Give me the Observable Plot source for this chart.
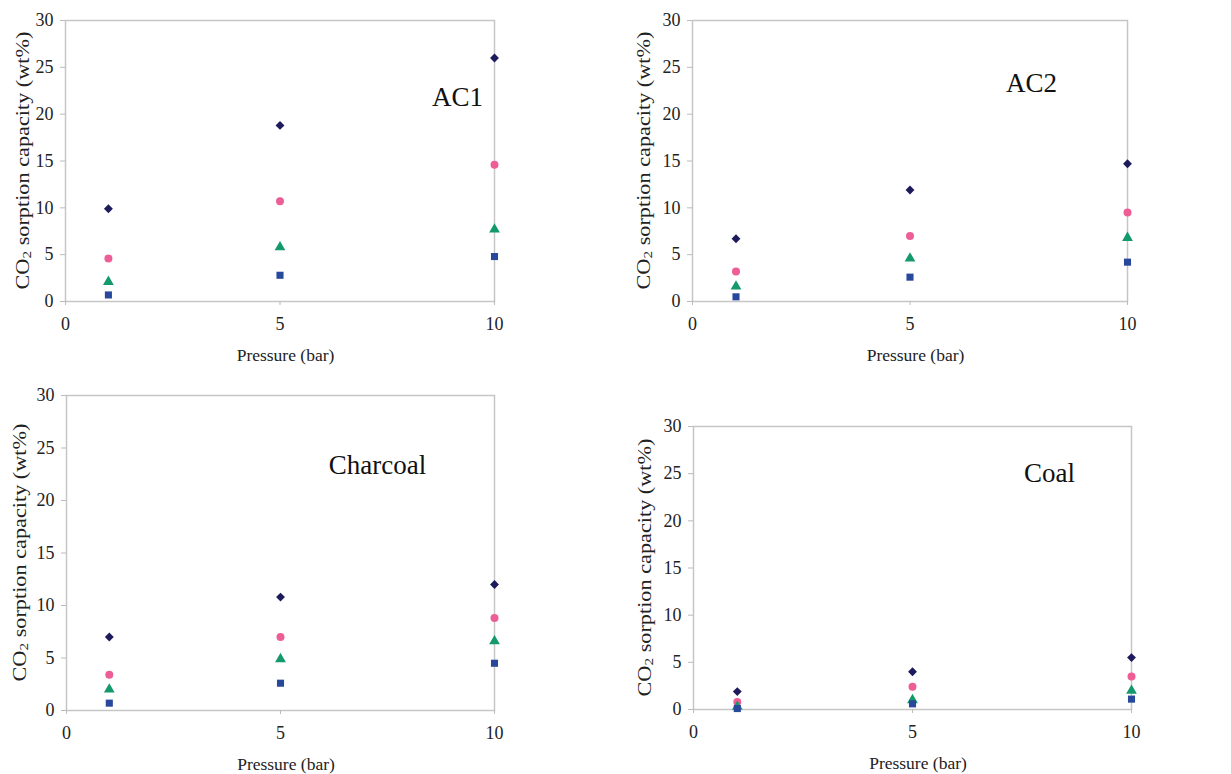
<!DOCTYPE html>
<html><head><meta charset="utf-8">
<script src="https://cdn.jsdelivr.net/npm/d3@7"></script>
<script src="https://cdn.jsdelivr.net/npm/@observablehq/plot@0.6"></script>
<style>
body{margin:0;background:#fff;}
#wrap{position:relative;width:1231px;height:774px;overflow:hidden;font-family:"Liberation Serif",serif;}
.panel{position:absolute;}
</style></head><body><div id="wrap"></div>
<script>
// ---- data ----
const pressure = [1, 5, 10];
const seriesNames = ["Series 1", "Series 2", "Series 3", "Series 4"];
const seriesSymbols = ["diamond2", "circle", "triangle", "square"];
const seriesColors = ["#1d1b5c", "#ee5e96", "#13996b", "#28489c"];
const yTicks = [0, 5, 10, 15, 20, 25, 30];
const xTicks = [0, 5, 10];
const panelTitles = ["AC1", "AC2", "Charcoal", "Coal"];
const xLabel = "Pressure (bar)";
const ac1 = [[9.9, 18.8, 26.0], [4.6, 10.7, 14.6], [2.1, 5.8, 7.7], [0.7, 2.8, 4.8]];
const ac2 = [[6.7, 11.9, 14.7], [3.2, 7.0, 9.5], [1.6, 4.6, 6.8], [0.5, 2.6, 4.2]];
const charcoal = [[7.0, 10.8, 12.0], [3.4, 7.0, 8.8], [2.0, 4.9, 6.6], [0.7, 2.6, 4.5]];
const coal = [[1.9, 4.0, 5.5], [0.8, 2.4, 3.5], [0.3, 1.0, 2.0], [0.1, 0.6, 1.1]];
const panelData = [ac1, ac2, charcoal, coal];

// ---- layout (styles only) ----
const FONT = '"Liberation Serif", "Times New Roman", serif';
const layout = [
  {left: 0,   top: 0,   width: 600, height: 375, mL: 65, mR: 106, mT: 20, mB: 74, tdx: 392, tdy: 77, ylx: 22},
  {left: 620, top: 0,   width: 611, height: 375, mL: 72, mR: 104, mT: 20, mB: 74, tdx: 339, tdy: 63, ylx: 23},
  {left: 0,   top: 380, width: 600, height: 394, mL: 66, mR: 106, mT: 15, mB: 64, tdx: 311, tdy: 70, ylx: 19},
  {left: 620, top: 380, width: 611, height: 394, mL: 73, mR: 100, mT: 46, mB: 65, tdx: 356, tdy: 47, ylx: 24}
];

const wrap = document.getElementById("wrap");

panelData.forEach((d, i) => {
  const L = layout[i];
  const rows = [];
  d.forEach((vals, s) => vals.forEach((v, k) => rows.push({p: pressure[k], v, s: seriesNames[s]})));
  const plot = Plot.plot({
    width: L.width, height: L.height,
    marginLeft: L.mL, marginRight: L.mR, marginTop: L.mT, marginBottom: L.mB,
    style: {fontFamily: FONT, fontSize: "18px", color: "#222", background: "transparent", overflow: "visible"},
    x: {domain: [0, 10]},
    y: {domain: [0, 30]},
    color: {domain: seriesNames, range: seriesColors},
    symbol: {domain: seriesNames, range: seriesSymbols},
    marks: [
      Plot.frame({stroke: "#c6c6c6", strokeWidth: 1.5}),
      Plot.axisY(yTicks, {tickSize: 5, tickPadding: 7, stroke: "#bbb", fill: "#222", label: null, fontSize: 18}),
      Plot.axisX(xTicks, {tickSize: 4, tickPadding: 12, stroke: "#bbb", fill: "#222", label: null, fontSize: 18}),
      Plot.dot(rows, {x: "p", y: "v", symbol: "s", fill: "s", r: 4}),
      Plot.text([panelTitles[i]], {frameAnchor: "top-left", dx: L.tdx, dy: L.tdy, textAnchor: "middle", lineAnchor: "middle", fontSize: 27, fill: "#111"})
    ]
  });
  const svg = d3.select(plot);
  const x = plot.scale("x"), y = plot.scale("y");
  const cx = (x.range[0] + x.range[1]) / 2;
  const cy = (y.range[0] + y.range[1]) / 2;
  // x label
  svg.append("text")
    .attr("x", cx + 6).attr("y", y.range[0] + 54)
    .attr("text-anchor", "middle").attr("dominant-baseline", "central")
    .attr("font-family", FONT)
    .attr("font-size", 17.5).attr("fill", "#222")
    .text(xLabel);
  // y label with subscript
  const t = svg.append("text")
    .attr("transform", `translate(${L.ylx},${cy}) rotate(-90)`)
    .attr("text-anchor", "middle").attr("dominant-baseline", "central")
    .attr("font-family", FONT)
    .attr("font-size", 19).attr("fill", "#222")
    .attr("textLength", 258).attr("lengthAdjust", "spacingAndGlyphs");
  t.append("tspan").text("CO");
  t.append("tspan").attr("font-size", 13).attr("dy", 4).text("2");
  t.append("tspan").attr("dy", -4).text(" sorption capacity (wt%)");

  const div = document.createElement("div");
  div.className = "panel";
  div.style.left = L.left + "px";
  div.style.top = L.top + "px";
  div.appendChild(plot);
  wrap.appendChild(div);
});
</script></body></html>
